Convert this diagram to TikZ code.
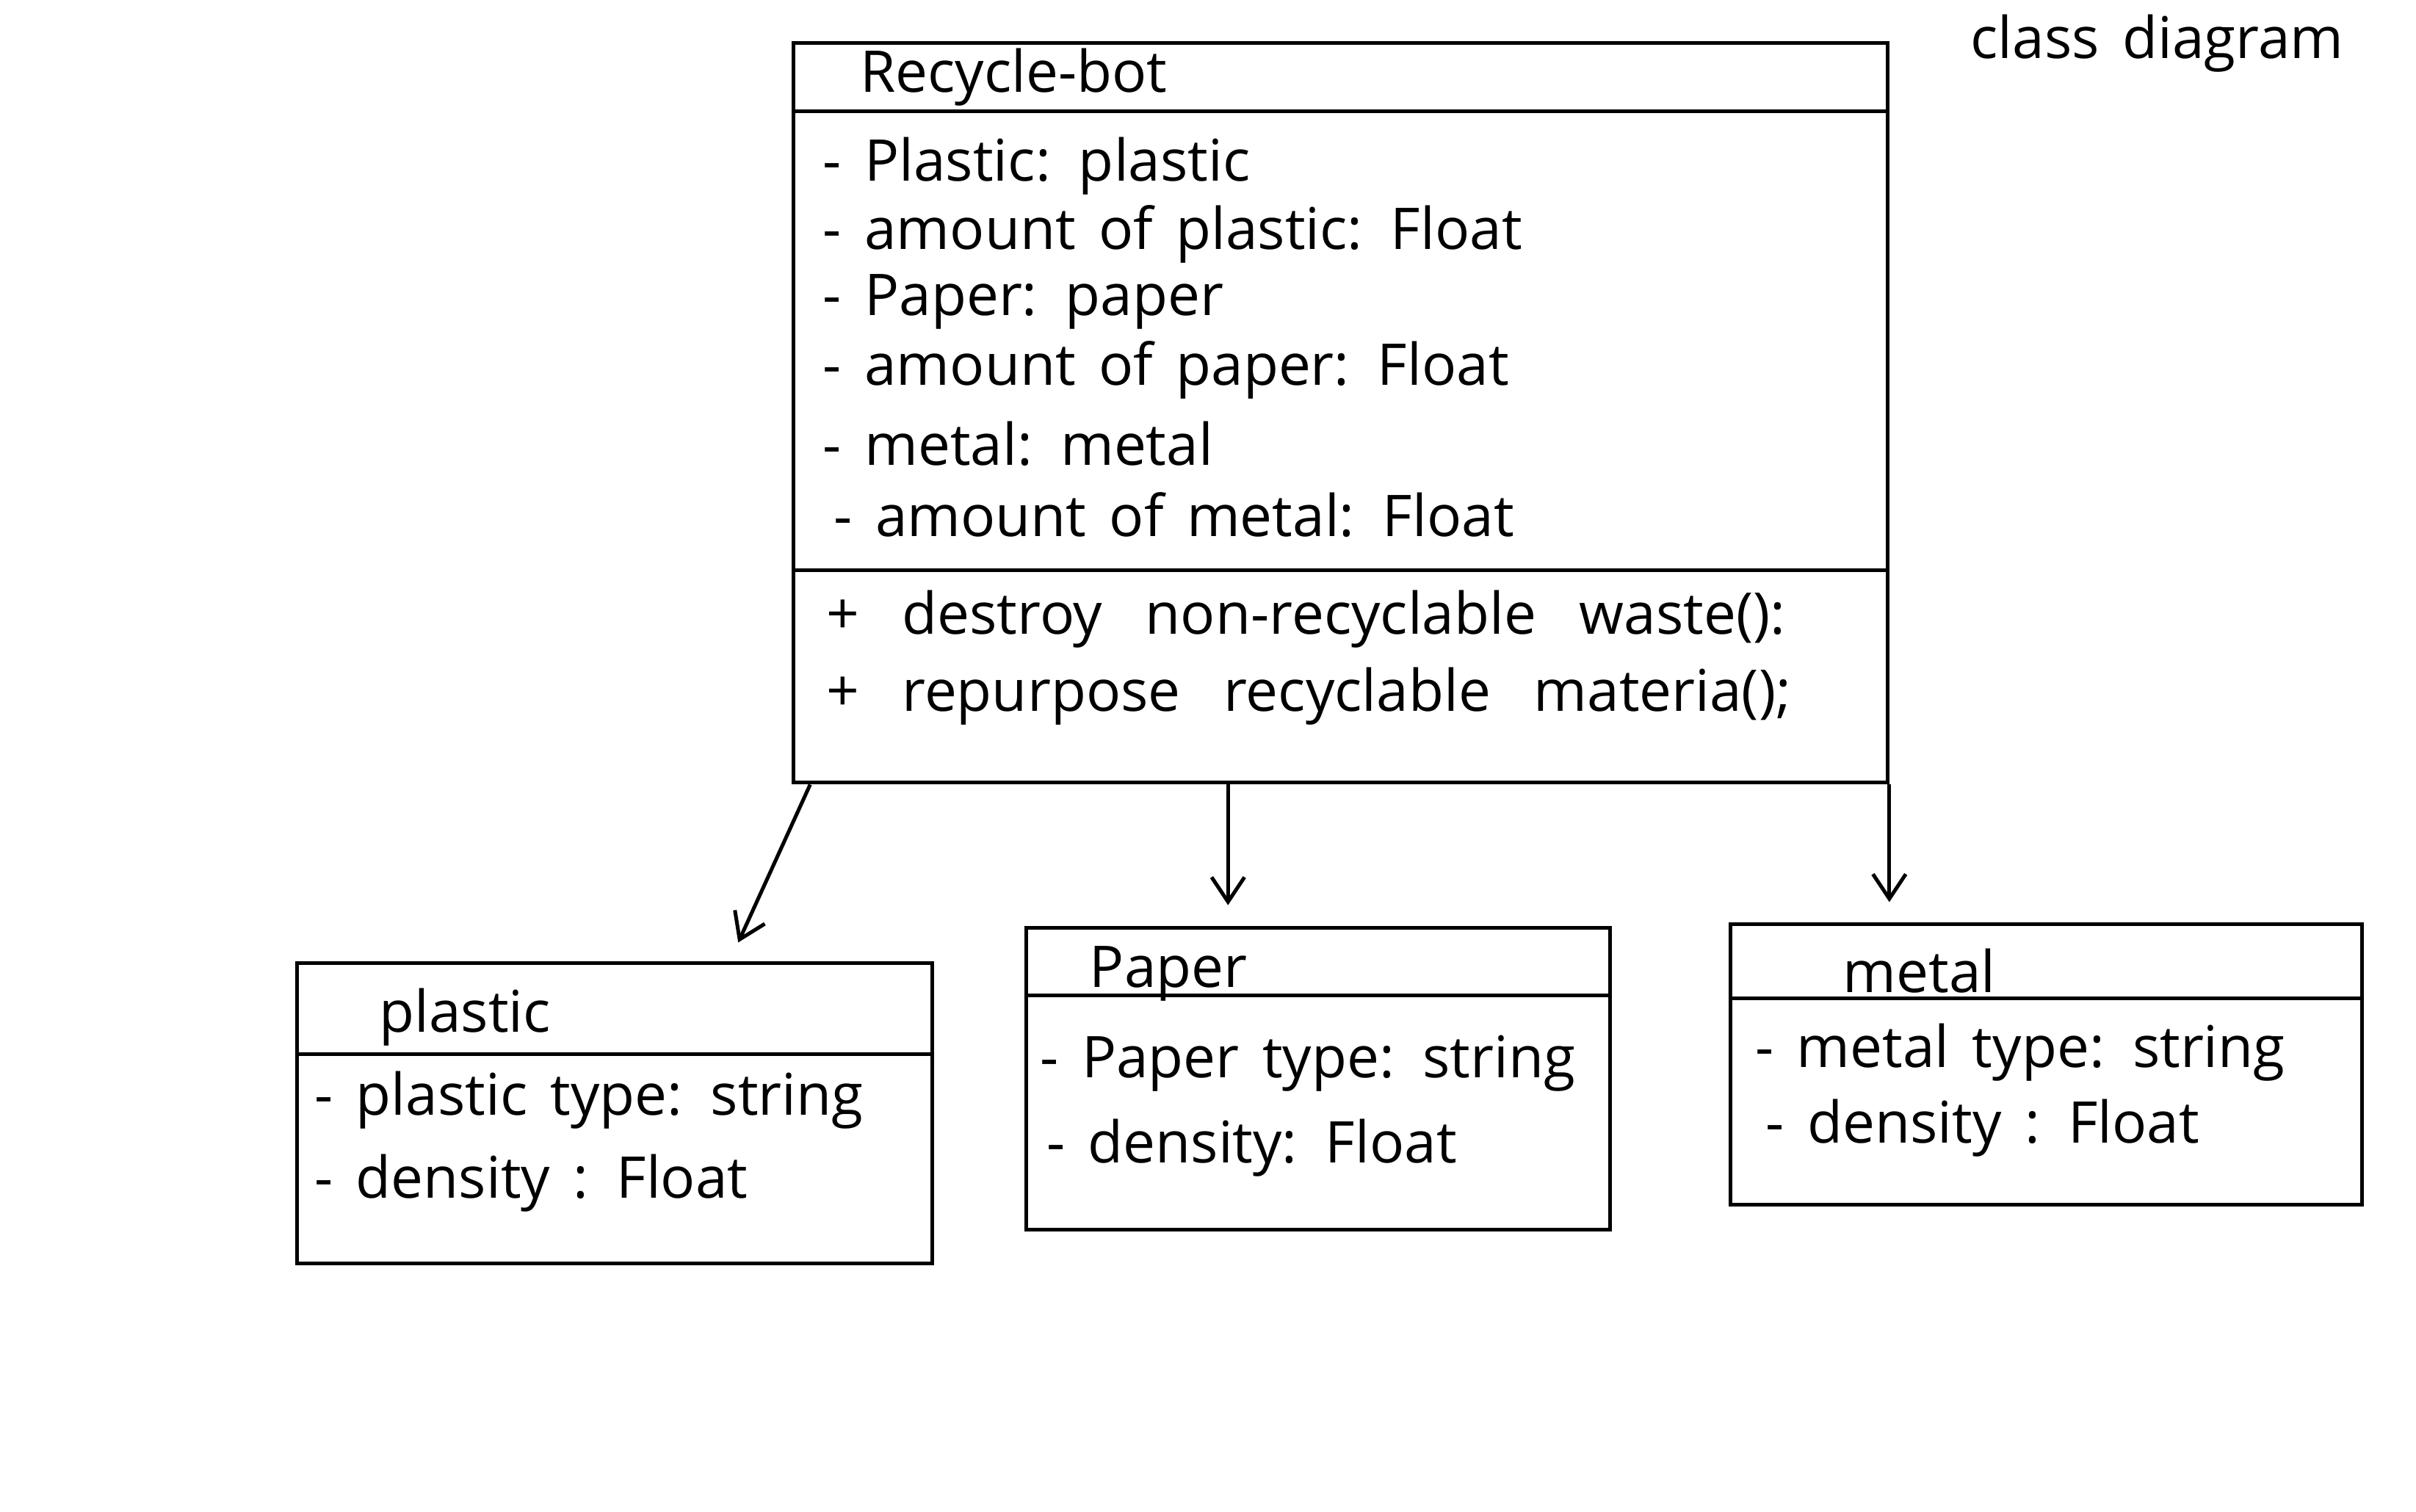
\documentclass[tikz,border=0pt]{standalone}
\usepackage{fontspec}
\setmainfont{Open Sans}
\usetikzlibrary{arrows.meta,fit,calc}
\tikzset{every picture/.style={line width=1.8pt}}
\newcommand{\handfont}{\fontsize{28}{32}\selectfont\spaceskip=0.4em}
\newcommand{\methodfont}{\fontsize{28}{32}\selectfont\spaceskip=0.75em}

\begin{document}
\begin{tikzpicture}[x=0.75pt,y=0.75pt,yscale=-1,
  classbox/.style={draw, inner sep=0pt},
  member/.style={anchor=west, inner sep=0pt, font=\handfont},
  method/.style={anchor=west, inner sep=0pt, font=\methodfont},
  classname/.style={anchor=west, inner sep=0pt, font=\handfont},
  assoc/.style={-{Straight Barb[length=12pt,width=16pt]}, shorten >=10pt}]
%set diagram at the size of the sheet
\useasboundingbox (0,0) rectangle (1568,981);
\fill[white] (0,0) rectangle (1568,981);

%Class: Recycle-bot
\node[classbox, fit={(515,28) (1225,508)}] (bot) {};
\draw (bot.west |- 0,72) -- (bot.east |- 0,72);
\draw (bot.west |- 0,370) -- (bot.east |- 0,370);
\node[classname] (botname) at (557,50) {Recycle-bot};
\node[member] (bot1) at (533,108) {- Plastic: plastic};
\node[member] (bot2) at (533,152) {- amount of plastic: Float};
\node[member] (bot3) at (533,196) {- Paper: paper};
\node[member] (bot4) at (533,240) {- amount of paper: Float};
\node[member] (bot5) at (533,288) {- metal: metal};
\node[member] (bot6) at (540,334) {- amount of metal: Float};
\node[method] (botm1) at (535,402) {+ destroy non-recyclable waste():};
\node[method] (botm2) at (535,452) {+ repurpose recyclable materia();};

%Class: plastic
\node[classbox, fit={(193,625) (605,820)}] (plastic) {};
\draw (plastic.west |- 0,684) -- (plastic.east |- 0,684);
\node[classname] (plasticname) at (245,660) {plastic};
\node[member] (plastic1) at (203,714) {- plastic type: string};
\node[member] (plastic2) at (203,768) {- density : Float};

%Class: Paper
\node[classbox, fit={(666,602) (1045,798)}] (paper) {};
\draw (paper.west |- 0,646) -- (paper.east |- 0,646);
\node[classname] (papername) at (706,632) {Paper};
\node[member] (paper1) at (674,690) {- Paper type: string};
\node[member] (paper2) at (678,745) {- density: Float};

%Class: metal
\node[classbox, fit={(1123,600) (1533,782)}] (metal) {};
\draw (metal.west |- 0,648) -- (metal.east |- 0,648);
\node[classname] (metalname) at (1195,630) {metal};
\node[member] (metal1) at (1138,683) {- metal type: string};
\node[member] (metal2) at (1145,732) {- density : Float};

%Associations
\coordinate (pa) at (797,0);
\draw[assoc] ($(bot.south west)+(12,0)$) -- ($(plastic.north west)!0.68!(plastic.north east)$);
\draw[assoc] (bot.south -| pa) -- (paper.north -| pa);
\draw[assoc] (bot.south east) -- (metal.north -| bot.east);

% Text Node
\node[font=\handfont] (label) at (1400,28) {class diagram};
\end{tikzpicture}
\end{document}
